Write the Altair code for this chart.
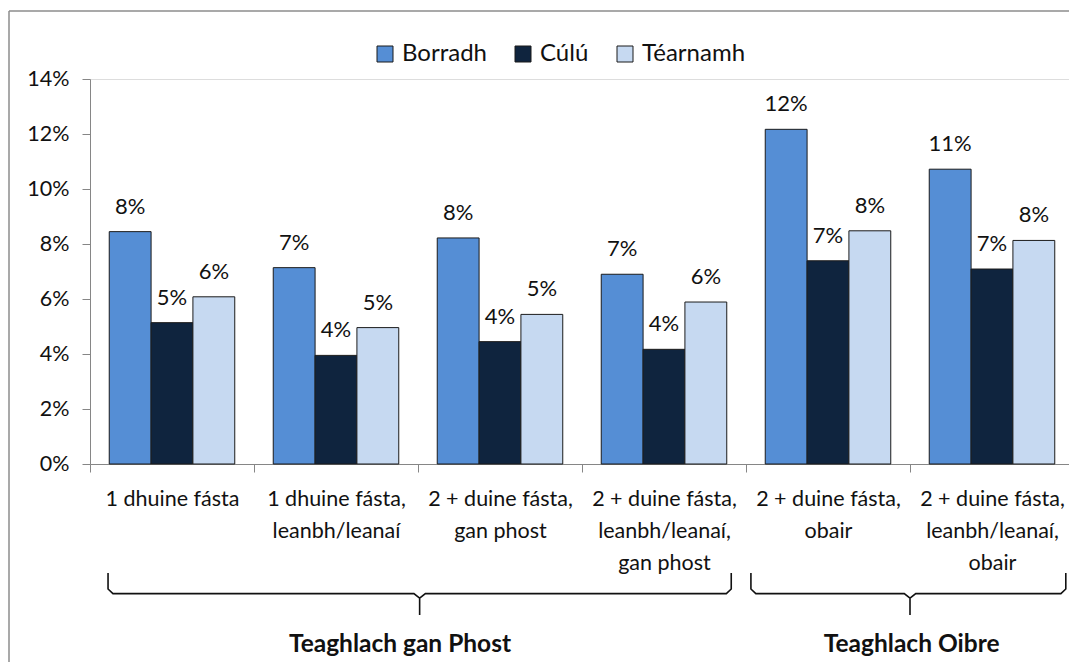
import altair as alt
import pandas as pd

categories = [
    "1 dhuine fásta",
    "1 dhuine fásta,|leanbh/leanaí",
    "2 + duine fásta,|gan phost",
    "2 + duine fásta,|leanbh/leanaí,|gan phost",
    "2 + duine fásta,|obair",
    "2 + duine fásta,|leanbh/leanaí,|obair",
]
series = ["Borradh", "Cúlú", "Téarnamh"]
borradh = [8.45, 7.14, 8.22, 6.90, 12.17, 10.72]
culu = [5.14, 3.95, 4.45, 4.17, 7.39, 7.09]
tearnamh = [6.08, 4.96, 5.44, 5.89, 8.48, 8.13]
colors = ["#558ED5", "#0F243E", "#C6D9F1"]
y_ticks = [0, 2, 4, 6, 8, 10, 12, 14]

# group brackets (in category units: left end, stem, right end) and labels
groups = ["Teaghlach gan Phost", "Teaghlach Oibre"]
group_start = [0.11, 4.03]
group_stem = [2.01, 5.0]
group_end = [3.91, 5.95]
group_label_pos = [1.89, 5.01]

FONT = "Lato"
X_RANGE = [0, 984]

rows = []
for i, c in enumerate(categories):
    for s, vals in zip(series, [borradh, culu, tearnamh]):
        rows.append({"category": c, "series": s, "value": vals[i]})
df = pd.DataFrame(rows)

brows = []
for g, a, c, b in zip(groups, group_start, group_stem, group_end):
    pts = [(a, 0), (a, 0.38), (a + 0.03, 0.49), (c - 0.035, 0.49), (c, 0.6), (c, 1.0),
           (c, 0.6), (c + 0.035, 0.49), (b - 0.03, 0.49), (b, 0.38), (b, 0)]
    for k, (px, py) in enumerate(pts):
        brows.append({"group": g, "ord": k, "bx": px, "by": py})
bdf = pd.DataFrame(brows)
gdf = pd.DataFrame({"group": groups, "tx": group_label_pos, "ty": [1.71, 1.71]})

x_enc = alt.X(
    "category:N", sort=categories,
    scale=alt.Scale(paddingInner=0, paddingOuter=0, range=X_RANGE),
    axis=alt.Axis(
        title=None, labelAngle=0, labelExpr="split(datum.label, '|')",
        tickBand="extent", tickSize=8, tickColor="#868686", domainColor="#868686",
        labelFontSize=21.5, labelLineHeight=32, labelBaseline="top", labelPadding=16,
        labelColor="#111111", labelFont=FONT,
    ),
)
xo_enc = alt.XOffset("series:N", sort=series, scale=alt.Scale(paddingInner=0, paddingOuter=0.46))
y_enc = alt.Y(
    "value:Q", scale=alt.Scale(domain=[0, 14], nice=False),
    axis=alt.Axis(
        title=None, values=y_ticks, labelExpr="datum.value + '%'", grid=False,
        tickSize=8, tickColor="#868686", domainColor="#868686",
        labelFontSize=21.5, labelPadding=13, labelColor="#111111", labelFont=FONT,
    ),
)

bars = alt.Chart(df).mark_bar(stroke="#1b1b1b", strokeWidth=1).encode(
    x=x_enc, xOffset=xo_enc, y=y_enc,
    color=alt.Color(
        "series:N", sort=series, scale=alt.Scale(domain=series, range=colors),
        legend=alt.Legend(
            title=None, orient="none", legendX=283, legendY=-37, direction="horizontal",
            symbolType="square", symbolSize=256, symbolStrokeColor="#1b1b1b",
            symbolStrokeWidth=1, symbolOpacity=1, labelFontSize=24, labelOffset=5,
            columnPadding=24, labelColor="#111111", labelFont=FONT,
        ),
    ),
)

labels = alt.Chart(df).transform_calculate(
    label="format(datum.value, '.0f') + '%'"
).mark_text(baseline="alphabetic", dy=-18, fontSize=22, font=FONT, color="#111111").encode(
    x=alt.X("category:N", sort=categories), xOffset=alt.XOffset("series:N", sort=series),
    y="value:Q", text="label:N",
)

bx_scale = alt.Scale(domain=[0, 6], range=X_RANGE, nice=False, zero=False)
by_scale = alt.Scale(domain=[0, 1], range=[494, 536], nice=False, zero=False)

brackets = alt.Chart(bdf).mark_line(color="#111111", strokeWidth=1.6).encode(
    x=alt.X("bx:Q", scale=bx_scale, axis=None),
    y=alt.Y("by:Q", scale=by_scale, axis=None),
    detail="group:N", order="ord:Q",
)
group_text = alt.Chart(gdf).mark_text(
    fontSize=24.5, fontWeight="bold", font=FONT, baseline="middle", color="#111111"
).encode(
    x=alt.X("tx:Q", scale=bx_scale, axis=None),
    y=alt.Y("ty:Q", scale=by_scale, axis=None),
    text="group:N",
)

frame_df = pd.DataFrame({"k": [0]})
frame_v = alt.Chart(frame_df).mark_rule(color="#8c8c8c", strokeWidth=1.5).encode(
    x=alt.value(-81), y=alt.value(-68), y2=alt.value(640)
)
frame_h = alt.Chart(frame_df).mark_rule(color="#8c8c8c", strokeWidth=1.5).encode(
    x=alt.value(-81), x2=alt.value(1100), y=alt.value(-68)
)

deco = alt.layer(brackets, group_text, frame_v, frame_h)

chart = alt.layer(alt.layer(bars, labels), deco).resolve_scale(
    x="independent", y="independent"
).properties(
    width=979, height=385,
    autosize=alt.AutoSizeParams(type="none"),
    padding={"left": 82, "top": 71, "right": 0, "bottom": 198},
    background="white",
).configure_view(stroke=None).configure(font=FONT)

chart.save("out.html", embed_options={"renderer": "svg", "actions": False})
